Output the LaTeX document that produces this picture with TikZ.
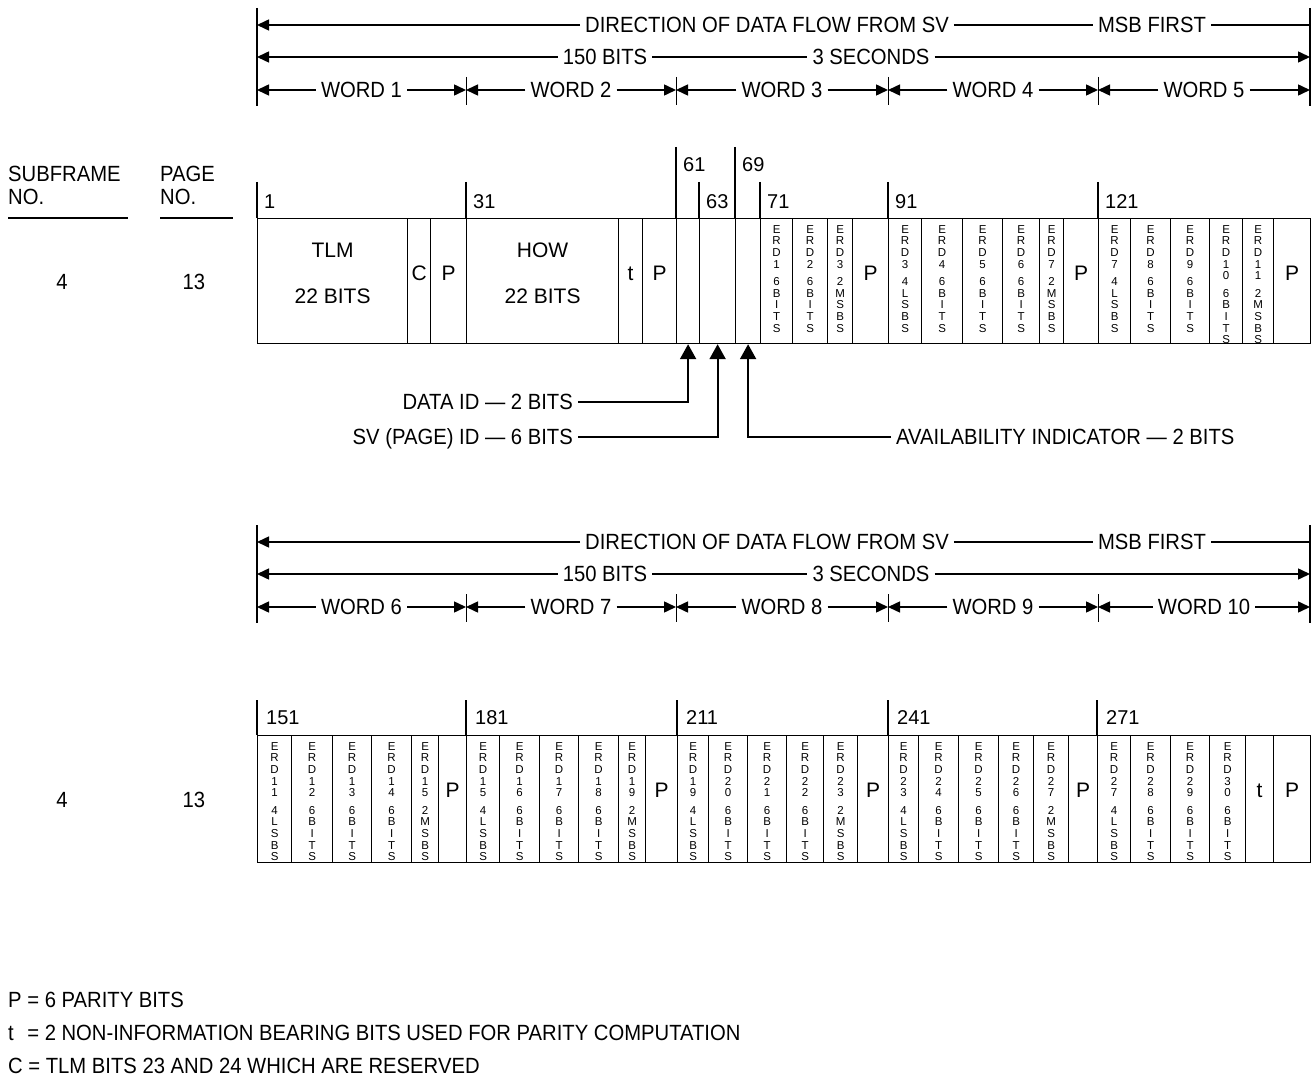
\documentclass[tikz,border=0pt]{standalone}
\usepackage{fontspec}
\setmainfont{Liberation Sans}
\newfontfamily\narrowfont[FakeStretch=0.92]{Liberation Sans}
\usetikzlibrary{arrows.meta,calc}

% stacked characters for the narrow ERD cells
\makeatletter
\newcommand\vchars[1]{\@tfor\erdch:=#1\do{\hbox to 0pt{\hss\erdch\hss}}}
\makeatother
\newcommand\erd[2]{\vbox{\baselineskip=11.7pt\vchars{ERD#1}\vskip5.5pt\vchars{#2}}}

\begin{document}
\begin{tikzpicture}[x=1pt, y=-1pt,
    lbl/.style={font=\narrowfont\fontsize{22}{26}\selectfont, inner xsep=5pt, inner ysep=0pt, text height=15.8pt, text depth=0pt},
    num/.style={font=\fontsize{20}{24}\selectfont, anchor=west, inner sep=0pt},
    cell/.style={draw, line width=1.2pt, inner sep=0pt, anchor=north west},
    big/.style={font=\fontsize{21}{46.5}\selectfont, align=center, inner sep=0pt, yshift=-55.5pt},
    erd/.style={font=\fontsize{11.5}{11.7}\selectfont, anchor=north, inner sep=0pt, yshift=-7pt},
    arr/.style={line width=1.5pt, -{Triangle[length=12pt,width=11pt]}},
    ptr/.style={line width=2.2pt, -{Triangle[length=15pt,width=16pt]}},
    bar/.style={line width=2pt}]
    \useasboundingbox (0,0) rectangle (1315,1078);

    % Draw header blocks
    \foreach \h/\dy/\wn in {h/0/1, k/517/6}{
        \foreach \x [count=\j from 0] in {257,466,676,888,1098,1310}
            \coordinate (\h b\j) at (\x,90+\dy);
        \draw[bar] ([yshift=82pt]\h b0) -- ([yshift=-16pt]\h b0);
        \draw[bar] ([yshift=82pt]\h b5) -- ([yshift=-16pt]\h b5);
        \foreach \j in {1,...,4}
            \draw[line width=1pt] ([yshift=13pt]\h b\j) -- ([yshift=-15pt]\h b\j);

        \node[lbl] (\h dir) at (767,25+\dy) {DIRECTION OF DATA FLOW FROM SV};
        \node[lbl] (\h msb) at (1152,25+\dy) {MSB FIRST};
        \node[lbl] (\h bits) at (605,57+\dy) {150 BITS};
        \node[lbl] (\h sec) at (871,57+\dy) {3 SECONDS};
        \draw[arr] (\h dir) -- (\h dir -| \h b0);
        \draw[line width=1.5pt] (\h dir) -- (\h msb);
        \draw[line width=1.5pt] (\h msb) -- (\h msb -| \h b5);
        \draw[arr] (\h bits) -- (\h bits -| \h b0);
        \draw[line width=1.5pt] (\h bits) -- (\h sec);
        \draw[arr] (\h sec) -- (\h sec -| \h b5);

        \foreach \j in {0,...,4}{
            \pgfmathtruncatemacro\nx{\j+1}
            \pgfmathtruncatemacro\wnum{\wn+\j}
            \node[lbl] (\h w\j) at ($(\h b\j)!0.5!(\h b\nx)$) {WORD \wnum};
            \draw[arr] (\h w\j) -- (\h b\j);
            \draw[arr] (\h w\j) -- (\h b\nx);
        }
    }

    % Subframe and page columns
    \node[lbl, anchor=west, inner xsep=0pt] (sf) at (8,174) {SUBFRAME};
    \node[lbl, anchor=west, inner xsep=0pt] (sfno) at (8,197) {NO.};
    \node[lbl, anchor=west, inner xsep=0pt] (pg) at (160,174) {PAGE};
    \node[lbl, anchor=west, inner xsep=0pt] (pgno) at (160,197) {NO.};
    \draw[line width=1.2pt] (8,218) -- (128,218);
    \draw[line width=1.2pt] (160,218) -- (233,218);
    \node[lbl] (sfa) at (62,282) {4};
    \node[lbl] (pga) at (194,282) {13};
    \node[lbl] (sfb) at (62,800) {4};
    \node[lbl] (pgb) at (194,800) {13};

    % First row: bit numbers
    \foreach \x/\yt/\n/\yl in {257/182/1/202, 466/182/31/202, 676/147/61/165, 699/182/63/202,
                              735/147/69/165, 760/182/71/202, 888/182/91/202, 1098/182/121/202}{
        \draw[line width=1.2pt] (\x,\yt) -- (\x,218);
        \node[num] (n\n) at ({\x+7},\yl) {\n};
    }

    % First row: cells
    \foreach \xa/\xb/\sty/\txt [count=\i] in {
        257/407/big/{TLM\\22 BITS}, 407/430/big/C, 430/466/big/P,
        466/618/big/{HOW\\22 BITS}, 618/642/big/t, 642/676/big/P,
        676/699/big/{}, 699/735/big/{}, 735/760/big/{},
        760/792/erd/{\erd{1}{6BITS}}, 792/827/erd/{\erd{2}{6BITS}}, 827/852/erd/{\erd{3}{2MSBS}},
        852/888/big/P,
        888/921/erd/{\erd{3}{4LSBS}}, 921/962/erd/{\erd{4}{6BITS}}, 962/1002/erd/{\erd{5}{6BITS}},
        1002/1039/erd/{\erd{6}{6BITS}}, 1039/1063/erd/{\erd{7}{2MSBS}}, 1063/1098/big/P,
        1098/1130/erd/{\erd{7}{4LSBS}}, 1130/1170/erd/{\erd{8}{6BITS}}, 1170/1209/erd/{\erd{9}{6BITS}},
        1209/1242/erd/{\erd{10}{6BITS}}, 1242/1273/erd/{\erd{11}{2MSBS}}, 1273/1310/big/P}{
        \pgfmathsetmacro\cellw{\xb-\xa}
        \node[cell, minimum width=\cellw pt, minimum height=125pt] (a\i) at (\xa,218) {};
        \node[\sty] at (a\i.north) {\txt};
    }

    % Pointers to the ID fields
    \node[lbl, anchor=east] (dataid) at (578,402) {DATA ID — 2 BITS};
    \node[lbl, anchor=east] (svid) at (578,437) {SV (PAGE) ID — 6 BITS};
    \node[lbl, anchor=west] (avail) at (891,437) {AVAILABILITY INDICATOR — 2 BITS};
    \draw[ptr] (dataid) -| (a7);
    \draw[ptr] (svid) -| (a8);
    \draw[ptr] (avail) -| (a9);

    % Second row: bit numbers
    \foreach \x/\n in {257/151, 466/181, 677/211, 888/241, 1097/271}{
        \draw[line width=1.2pt] (\x,700) -- (\x,735);
        \node[num] (n\n) at ({\x+9},718) {\n};
    }

    % Second row: cells
    \foreach \xa/\xb/\sty/\txt [count=\i] in {
        257/291/erd/{\erd{11}{4LSBS}}, 291/332/erd/{\erd{12}{6BITS}}, 332/371/erd/{\erd{13}{6BITS}},
        371/411/erd/{\erd{14}{6BITS}}, 411/438/erd/{\erd{15}{2MSBS}}, 438/466/big/P,
        466/499/erd/{\erd{15}{4LSBS}}, 499/539/erd/{\erd{16}{6BITS}}, 539/578/erd/{\erd{17}{6BITS}},
        578/618/erd/{\erd{18}{6BITS}}, 618/645/erd/{\erd{19}{2MSBS}}, 645/677/big/P,
        677/708/erd/{\erd{19}{4LSBS}}, 708/747/erd/{\erd{20}{6BITS}}, 747/786/erd/{\erd{21}{6BITS}},
        786/823/erd/{\erd{22}{6BITS}}, 823/857/erd/{\erd{23}{2MSBS}}, 857/888/big/P,
        888/918/erd/{\erd{23}{4LSBS}}, 918/958/erd/{\erd{24}{6BITS}}, 958/998/erd/{\erd{25}{6BITS}},
        998/1033/erd/{\erd{26}{6BITS}}, 1033/1068/erd/{\erd{27}{2MSBS}}, 1068/1097/big/P,
        1097/1130/erd/{\erd{27}{4LSBS}}, 1130/1170/erd/{\erd{28}{6BITS}}, 1170/1209/erd/{\erd{29}{6BITS}},
        1209/1245/erd/{\erd{30}{6BITS}}, 1245/1273/big/t, 1273/1310/big/P}{
        \pgfmathsetmacro\cellw{\xb-\xa}
        \node[cell, minimum width=\cellw pt, minimum height=127pt] (b\i) at (\xa,735) {};
        \node[\sty] at (b\i.north) {\txt};
    }

    % Legend
    \node[lbl, anchor=west, inner xsep=0pt] (keyp) at (8,1000) {P = 6 PARITY BITS};
    \node[lbl, anchor=west, inner xsep=0pt] (keyt) at (8,1033) {\rlap{t}\phantom{P} = 2 NON-INFORMATION BEARING BITS USED FOR PARITY COMPUTATION};
    \node[lbl, anchor=west, inner xsep=0pt] (keyc) at (8,1066) {C = TLM BITS 23 AND 24 WHICH ARE RESERVED};
\end{tikzpicture}
\end{document}
